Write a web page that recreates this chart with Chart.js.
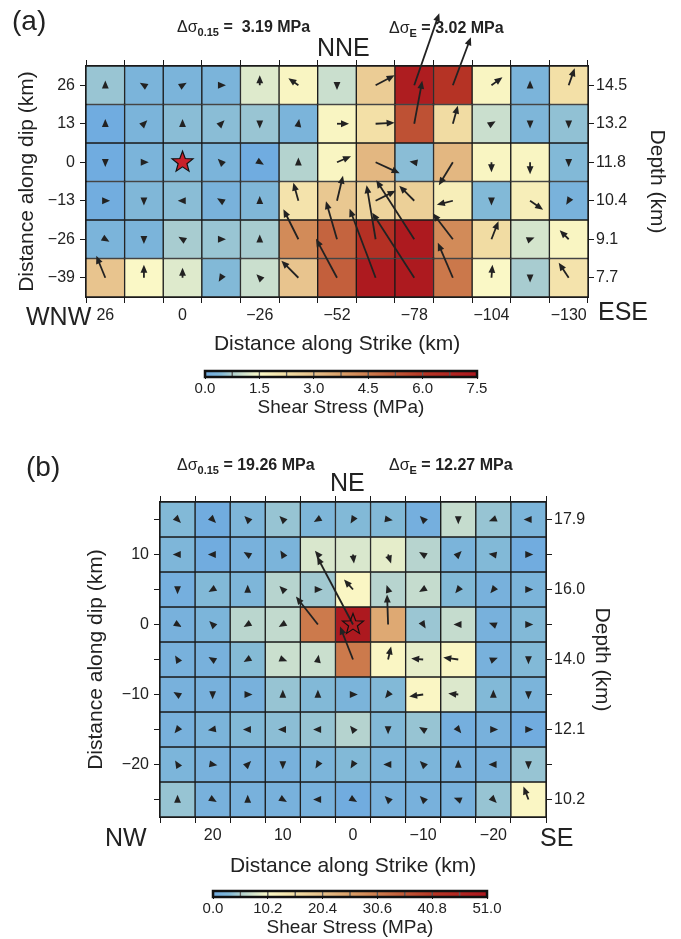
<!DOCTYPE html>
<html>
<head>
<meta charset="UTF-8">
<title>Shear stress</title>
<script src="https://cdn.jsdelivr.net/npm/chart.js@4.4.0/dist/chart.umd.min.js"></script>
<style>
  body { margin: 0; background: #fff; width: 681px; height: 939px; position: relative; overflow: hidden;
         font-family: 'Liberation Sans', Arial, sans-serif; color: #222; }
  canvas { position: absolute; left: 0; }
  .lab { position: absolute; white-space: nowrap; transform: translateY(-50%); line-height: 1; }
  .big { font-size: 25px; }
  .pan { font-size: 28px; }
  .dl { font-size: 16px; }
  .dl b { font-weight: bold; }
  .dl sub { font-size: 11px; font-weight: bold; vertical-align: -4px; }
</style>
</head>
<body>
<canvas id="chartA" width="681" height="360" style="top:0"></canvas>
<canvas id="barA" width="681" height="80" style="top:345px"></canvas>
<canvas id="chartB" width="681" height="450" style="top:430px"></canvas>
<canvas id="barB" width="681" height="59" style="top:880px"></canvas>

<div class="lab pan" style="left:12px;top:21px">(a)</div>
<div class="lab dl" style="left:177px;top:28px">Δσ<sub>0.15</sub><b> =&nbsp; 3.19 MPa</b></div>
<div class="lab dl" style="left:389px;top:29px">Δσ<sub>E</sub><b> = 3.02 MPa</b></div>
<div class="lab big" style="left:317px;top:47px">NNE</div>
<div class="lab big" style="left:26px;top:316px">WNW</div>
<div class="lab big" style="left:598px;top:311px">ESE</div>

<div class="lab pan" style="left:26px;top:467px">(b)</div>
<div class="lab dl" style="left:177px;top:466px">Δσ<sub>0.15</sub><b> = 19.26 MPa</b></div>
<div class="lab dl" style="left:389px;top:466px">Δσ<sub>E</sub><b> = 12.27 MPa</b></div>
<div class="lab big" style="left:330px;top:482px">NE</div>
<div class="lab big" style="left:105px;top:837px">NW</div>
<div class="lab big" style="left:540px;top:837px">SE</div>

<script>
// ---------- panel (a) ----------
const strikeA = [26, 13, 0, -13, -26, -39, -52, -65, -78, -91, -104, -117, -130];
const dipA = [26, 13, 0, -13, -26, -39];
const depthA = ['14.5', '13.2', '11.8', '10.4', '9.1', '7.7'];
const stressA = [
  [0.6, 0.3, 0.3, 0.3, 1.2, 1.6, 1.0, 2.7, 7.2, 6.2, 1.6, 0.3, 2.2],
  [0.05, 0.3, 0.5, 0.5, 0.6, 0.3, 1.6, 2.2, 5.4, 2.3, 1.0, 0.35, 0.55],
  [0.05, 0.3, 0.45, 0.3, 0.05, 0.8, 1.6, 3.2, 0.5, 3.2, 1.6, 1.6, 0.45],
  [0.1, 0.4, 0.5, 0.25, 0.4, 2.1, 2.8, 2.5, 2.6, 1.8, 0.45, 1.8, 0.25],
  [0.3, 0.3, 0.7, 0.6, 0.7, 4.2, 5.0, 6.3, 7.3, 4.2, 2.3, 1.1, 1.6],
  [2.9, 1.5, 1.2, 0.45, 1.0, 2.9, 5.1, 7.3, 7.3, 4.6, 1.5, 0.7, 2.1]
];
// slip vector components (along strike to the right, up dip)
const slipUA = [
  [0, -5, 5, 6, 0, -10, 0, 19, 25, 18, 11, 0, 6],
  [0, 4, 0, 4, 0, 1, 12, 19, 8, 5, 5, 0, 0],
  [0, 6, 0, -4, 5, 0, 14, 24, -6, -14, 0, 0, 0],
  [6, 0, -6, -5, 0, -5, 6, 20, -15, -16, 0, 13, -3],
  [5, 0, -5, 6, 0, -15, -11, -9, -38, -20, 7, 5, -9],
  [-9, 0, 0, -3, -4, -17, -21, -26, -42, -15, 1, 0, -10]
];
const slipVA = [
  [6, 3, 3, 0, 10, 7, -6, 10, 72, 48, 8, 6, 17],
  [6, 4, 6, 4, -6, 6, 0, 1, 43, 18, 3, -6, -6],
  [-6, 0, 0, 4, -3, 6, 6, -11, 1, -23, -10, -12, -6],
  [0, -6, 0, 3, 6, 18, 25, 10, 15, -4, -6, -9, -5],
  [-3, -6, 3, 0, 6, 30, 38, 54, 59, 26, 18, 2, 9],
  [22, 13, 10, -5, 4, 17, 39, 69, 65, 35, 13, -6, 15]
];
const cbarTicksA = [0, 1.5, 3.0, 4.5, 6.0, 7.5];

// ---------- panel (b) ----------
const strikeB = [25, 20, 15, 10, 5, 0, -5, -10, -15, -20, -25];
const dipB = [15, 10, 5, 0, -5, -10, -15, -20, -25];
const depthB = ['17.9', '', '16.0', '', '14.0', '', '12.1', '', '10.2'];
const stressB = [
  [3, 0.5, 2.5, 4, 2.5, 3, 3, 1, 6.5, 4, 2.2],
  [2.5, 0.5, 1.5, 2, 7.8, 7.8, 8.7, 5.6, 2, 3, 0.5],
  [1, 3, 2.5, 5.6, 4.5, 10.5, 5.6, 6.5, 3, 1.5, 2],
  [1.5, 2.2, 5.8, 6.3, 31, 50, 24, 4.2, 6.5, 1.5, 3],
  [1.5, 1.5, 3.2, 6.8, 6.8, 31, 10.5, 8.8, 10.5, 1.5, 3],
  [1.5, 1.5, 1.5, 4, 3, 2, 3, 10.5, 8, 3, 2],
  [1.5, 2, 3, 3.5, 4, 5.5, 3, 4, 1, 1.5, 0.5],
  [2.2, 1.5, 1.5, 1.5, 2.2, 3, 2.2, 2.2, 1.5, 1.5, 4],
  [4, 1.5, 1.5, 1.5, 1.5, 0.5, 1.5, 1.5, 1.5, 4, 10.5]
];
const slipUB = [
  [4, 4, -4, -4, -5, -3, 6, -4, 0, -5, -6],
  [-6, -6, -5, -3, -4, 1, 3, -5, 4, -6, 6],
  [0, -5, 0, -4, 6, -9, -2, -5, -4, -4, 6],
  [5, -4, -5, -5, -22, -36, -1, 3, -6, -5, 6],
  [-3, -5, -5, 5, 1, -13, 3, -12, -15, 5, 0],
  [-5, 0, 6, 0, 0, 6, -4, -14, -10, 0, 0],
  [-4, -6, -6, -6, -6, -4, 0, -5, 4, 6, 6],
  [-3, 6, 4, 0, -3, -3, -6, -4, 0, -6, 0],
  [0, 5, 0, 5, -6, 5, -4, -4, -5, 4, -5]
];
const slipVB = [
  [-4, -4, 4, 4, -3, -5, -1, 4, -6, -2, 0],
  [0, 0, 3, 5, 5, -9, -9, 3, 4, 1, 0],
  [-6, -3, 6, 4, 0, 10, 6, -3, -5, -5, 0],
  [-3, 4, -3, -3, 28, 68, 30, -5, 0, 2, 0],
  [5, 3, -3, -2, 6, 33, 13, 1, 2, 2, -6],
  [3, -6, 0, 6, 6, 0, -5, -2, 1, 6, -6],
  [-5, -1, 0, 0, 0, 5, -6, 3, -5, 0, 0],
  [5, -1, 4, -6, -5, -5, 0, 4, 6, 0, -6],
  [6, -3, 6, -3, 0, -3, 4, 4, 2, -4, 13]
];
const cbarTicksB = [0, 10.2, 20.4, 30.6, 40.8, 51.0];

// colour palette (fraction of max -> rgb)
const palette = [
  [0.00, [110, 170, 225]], [0.06, [130, 185, 215]], [0.10, [175, 208, 207]],
  [0.15, [215, 230, 205]], [0.20, [250, 248, 198]], [0.30, [242, 222, 165]],
  [0.40, [230, 192, 138]], [0.50, [218, 160, 105]], [0.60, [205, 125, 78]],
  [0.70, [192, 88, 55]], [0.80, [182, 55, 38]], [1.00, [172, 22, 30]]
];

function shade(t) {
  t = Math.max(0, Math.min(1, t));
  for (let i = 1; i < palette.length; i++) {
    const [t1, c1] = palette[i], [t0, c0] = palette[i - 1];
    if (t <= t1) {
      const f = (t - t0) / (t1 - t0);
      const c = c0.map((v, k) => Math.round(v + (c1[k] - v) * f));
      return `rgb(${c[0]},${c[1]},${c[2]})`;
    }
  }
}

const fmt = n => n < 0 ? '\u2212' + Math.abs(n) : String(n);

Chart.defaults.font.family = "'Liberation Sans', Arial, sans-serif";
Chart.defaults.color = '#222';

function drawArrow(ctx, x0, y0, dx, dy) {
  const L = Math.hypot(dx, dy);
  if (L < 0.5) return;
  const ux = dx / L, uy = dy / L, hl = 8, hw = 3.4;
  let tx = x0 + dx, ty = y0 + dy;
  if (L <= hl + 1) { tx = x0 + ux * hl * 0.6; ty = y0 + uy * hl * 0.6; }
  const bx = tx - ux * hl, by = ty - uy * hl;
  if (L > hl + 1) {
    ctx.beginPath();
    ctx.moveTo(x0, y0);
    ctx.lineTo(bx + ux, by + uy);
    ctx.stroke();
  }
  ctx.beginPath();
  ctx.moveTo(tx, ty);
  ctx.lineTo(bx - uy * hw, by + ux * hw);
  ctx.lineTo(bx + uy * hw, by - ux * hw);
  ctx.closePath();
  ctx.fill();
}

function drawStar(ctx, cx, cy, r, fill) {
  ctx.beginPath();
  for (let i = 0; i < 10; i++) {
    const a = -Math.PI / 2 + i * Math.PI / 5, rr = i % 2 ? r * 0.42 : r;
    ctx.lineTo(cx + rr * Math.cos(a), cy + rr * Math.sin(a));
  }
  ctx.closePath();
  if (fill) { ctx.fillStyle = fill; ctx.fill(); }
  ctx.lineWidth = 1.2;
  ctx.strokeStyle = '#111';
  ctx.stroke();
}

function slipPlugin(U, V, dips, refPx, epiCol, starFill) {
  return {
    id: 'slip',
    afterDatasetsDraw(chart) {
      const {ctx, scales: {x, y}} = chart;
      const k = (x.getPixelForValue(1) - x.getPixelForValue(0)) / refPx;
      ctx.save();
      ctx.fillStyle = '#222';
      ctx.strokeStyle = '#222';
      ctx.lineWidth = 1.8;
      U.forEach((row, r) => row.forEach((u, c) => {
        drawArrow(ctx, x.getPixelForValue(c), y.getPixelForValue(dips[r]), u * k, -V[r][c] * k);
      }));
      drawStar(ctx, x.getPixelForValue(epiCol), y.getPixelForValue(0), 11, starFill);
      ctx.restore();
    }
  };
}

function makePanel(id, p) {
  const half = (p.dip[0] - p.dip[1]) / 2;
  const lo = p.dip[p.dip.length - 1] - half, hi = p.dip[0] + half;
  const rowTicks = s => { s.ticks = p.dip.map(v => ({value: v})); };
  const border = {display: true, width: 2, color: '#1a1a1a'};
  const grid = {drawOnChartArea: false, tickLength: 6, tickColor: '#1a1a1a'};
  const tfont = {size: 16};
  const titleFont = {size: 21};
  new Chart(document.getElementById(id), {
    type: 'bar',
    data: {
      labels: p.strike.map(fmt),
      datasets: p.stress.map((row, r) => ({
        data: row.map(() => [p.dip[r] - half, p.dip[r] + half]),
        backgroundColor: row.map(v => shade(v / p.vmax)),
        borderColor: '#1a1a1a',
        borderWidth: 1,
        borderSkipped: false,
        grouped: false,
        barPercentage: 1,
        categoryPercentage: 1
      }))
    },
    options: {
      responsive: false,
      animation: false,
      devicePixelRatio: 1,
      layout: {padding: 0},
      plugins: {legend: {display: false}, tooltip: {enabled: false}},
      scales: {
        x: {
          type: 'category', position: 'bottom', offset: true, border, grid,
          ticks: {autoSkip: false, maxRotation: 0, font: tfont, padding: 3,
                  callback: (v, i) => p.strike[i] % p.xStep === 0 ? fmt(p.strike[i]) : ''},
          title: {display: true, text: 'Distance along Strike (km)', font: titleFont,
                  padding: {top: 0, bottom: p.pad.xt}},
          afterFit: s => { s.height = p.box.bottom; }
        },
        x2: {
          type: 'category', position: 'top', offset: true, border, grid,
          ticks: {autoSkip: false, callback: () => ''},
          afterFit: s => { s.height = p.box.top; }
        },
        y: {
          type: 'linear', position: 'left', min: lo, max: hi, border, grid,
          afterBuildTicks: rowTicks,
          ticks: {font: tfont, padding: 5, callback: v => v % p.yStep === 0 ? fmt(v) : ''},
          title: {display: true, text: 'Distance along dip (km)', font: titleFont,
                  padding: {top: p.pad.yl, bottom: 0}},
          afterFit: s => { s.width = p.box.left; }
        },
        y2: {
          type: 'linear', position: 'right', min: lo, max: hi, border, grid,
          afterBuildTicks: rowTicks,
          ticks: {font: tfont, padding: 2, callback: (v, i) => p.depth[i]},
          title: {display: true, text: 'Depth (km)', font: titleFont,
                  padding: {top: p.pad.yr, bottom: 0}},
          afterFit: s => { s.width = p.box.right; }
        }
      }
    },
    plugins: [slipPlugin(p.u, p.v, p.dip, p.refPx, p.strike.indexOf(0), p.starFill)]
  });
}

const framePlugin = {
  id: 'frame',
  afterDraw(chart) {
    const {ctx, chartArea: a} = chart;
    ctx.save();
    ctx.lineWidth = 2.5;
    ctx.strokeStyle = '#111';
    ctx.strokeRect(a.left, a.top, a.right - a.left, a.bottom - a.top);
    ctx.restore();
  }
};

function makeBar(id, ticks, pad, axisH, titlePad) {
  const vmax = ticks[ticks.length - 1], n = 10, step = vmax / n;
  const gradient = c => {
    const {ctx, chartArea} = c.chart;
    if (!chartArea) return null;
    const g = ctx.createLinearGradient(chartArea.left, 0, chartArea.right, 0);
    palette.forEach(([t, col]) => g.addColorStop(t, `rgb(${col[0]},${col[1]},${col[2]})`));
    return g;
  };
  new Chart(document.getElementById(id), {
    type: 'bar',
    data: {
      labels: [''],
      datasets: Array.from({length: n}, (_, i) => ({
        data: [[i * step, (i + 1) * step]],
        backgroundColor: gradient,
        borderColor: 'rgba(70,70,70,0.9)',
        borderWidth: 1,
        borderSkipped: false,
        grouped: false,
        barPercentage: 1,
        categoryPercentage: 1
      }))
    },
    options: {
      indexAxis: 'y',
      responsive: false,
      animation: false,
      devicePixelRatio: 1,
      layout: {padding: pad},
      plugins: {legend: {display: false}, tooltip: {enabled: false}},
      scales: {
        x: {
          type: 'linear', min: 0, max: vmax,
          afterBuildTicks: s => { s.ticks = ticks.map(v => ({value: v})); },
          border: {display: false},
          grid: {drawOnChartArea: false, tickLength: 2, tickColor: '#111'},
          ticks: {font: {size: 15}, padding: 1, callback: v => v.toFixed(1)},
          title: {display: true, text: 'Shear Stress (MPa)', font: {size: 19},
                  padding: {top: 0, bottom: titlePad}},
          afterFit: s => { s.height = axisH; }
        },
        y: {display: false}
      }
    },
    plugins: [framePlugin]
  });
}

makePanel('chartA', {
  strike: strikeA, dip: dipA, depth: depthA, stress: stressA, u: slipUA, v: slipVA,
  vmax: 7.5, xStep: 26, yStep: 13, refPx: 38.6, starFill: '#c8202a',
  box: {left: 86, right: 93, top: 66, bottom: 63},
  pad: {xt: 3.4, yl: 14.4, yr: 11.4}
});
makeBar('barA', cbarTicksA, {left: 205, right: 204, top: 26}, 48, 5.6);

makePanel('chartB', {
  strike: strikeB, dip: dipB, depth: depthB, stress: stressB, u: slipUB, v: slipVB,
  vmax: 51, xStep: 10, yStep: 10, refPx: 35.1, starFill: null,
  box: {left: 160, right: 135, top: 72, bottom: 63},
  pad: {xt: 1.4, yl: 83.4, yr: 66.4}
});
makeBar('barB', cbarTicksB, {left: 213, right: 194, top: 11}, 42, 0);
</script>
</body>
</html>
